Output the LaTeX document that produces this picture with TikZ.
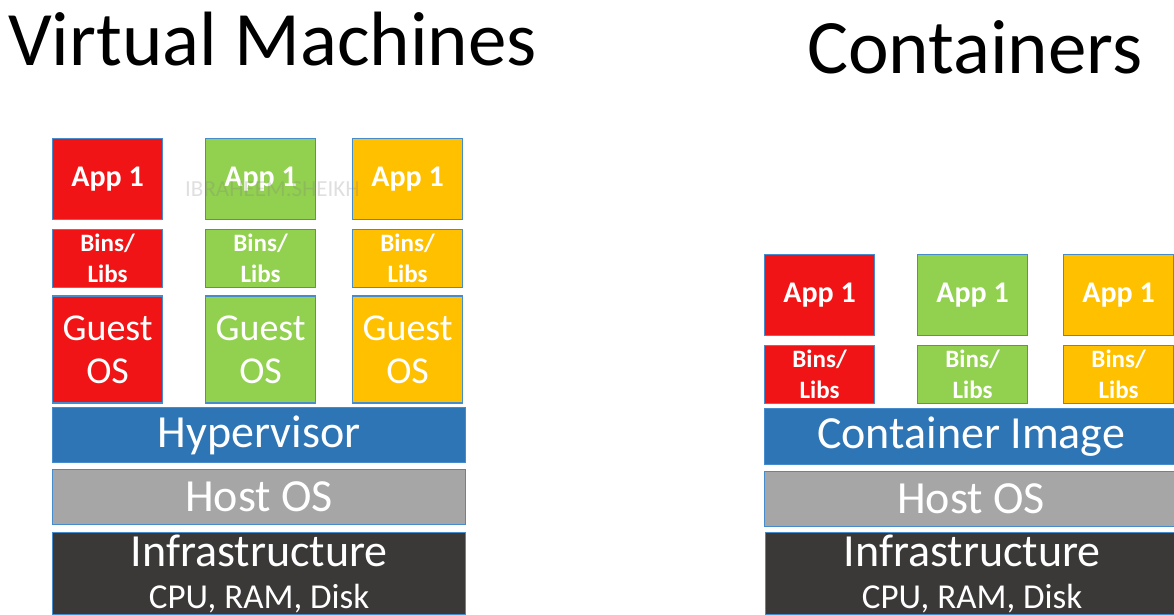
\documentclass[tikz,border=0pt]{standalone}
\usepackage{fontspec}
\setmainfont{Carlito}
\usepackage{tikz}
\usetikzlibrary{positioning}

\definecolor{vmred}{RGB}{240,20,22}
\definecolor{vmgreen}{RGB}{146,208,80}
\definecolor{vmyellow}{RGB}{255,192,0}
\definecolor{vmblue}{RGB}{46,117,182}
\definecolor{vmgray}{RGB}{166,166,166}
\definecolor{vmdark}{RGB}{59,56,56}
\definecolor{boxline}{RGB}{70,140,205}

\begin{document}
\begin{tikzpicture}[x=1pt, y=-1pt,
    box/.style={draw=boxline, line width=1.2pt, inner sep=0pt, text=white, align=center},
    app/.style={box, minimum width=110pt, minimum height=81pt, font=\bfseries\fontsize{30}{30}\selectfont},
    bins/.style={box, minimum width=110pt, minimum height=58pt, font=\bfseries\fontsize{25}{31}\selectfont},
    guest/.style={box, minimum width=110pt, minimum height=107pt, font=\fontsize{38}{43}\selectfont},
    layer/.style={box, minimum width=413pt, minimum height=55pt, font=\fontsize{46}{46}\selectfont},
    infra/.style={layer, fill=vmdark, minimum height=82pt, anchor=north west},
    title/.style={anchor=base west, inner sep=0pt, font=\fontsize{77}{77}\selectfont}]

    \useasboundingbox (0,0) rectangle (1174,615);
    \clip (0,0) rectangle (1174,615);

    % virtual machines
    \node[title] (vmtitle) at (8,66) {Virtual Machines};

    \node[app, fill=vmred, anchor=north west] (appR) at (52,138) {App 1};
    \node[app, fill=vmgreen, anchor=north west] (appG) at (205,138) {App 1};
    \node[app, fill=vmyellow, anchor=north west] (appY) at (352,138) {App 1};

    \node[bins, fill=vmred] (binsR) [below=9pt of appR] {Bins/\\Libs};
    \node[bins, fill=vmgreen] (binsG) [below=9pt of appG] {Bins/\\Libs};
    \node[bins, fill=vmyellow] (binsY) [below=9pt of appY] {Bins/\\Libs};

    \node[guest, fill=vmred] (guestR) [below=7pt of binsR] {Guest\\OS};
    \node[guest, fill=vmgreen] (guestG) [below=7pt of binsG] {Guest\\OS};
    \node[guest, fill=vmyellow] (guestY) [below=7pt of binsY] {Guest\\OS};

    \node[layer, fill=vmblue, anchor=north west] (hyper) at (52,407) {Hypervisor};
    \node[layer, fill=vmgray, anchor=north west] (hostL) at (52,469) {Host OS};
    \node[infra] (infraL) at (52,532)
        {Infrastructure\\[-4pt]{\fontsize{35}{35}\selectfont CPU, RAM, Disk}};

    \node[anchor=base west, inner sep=0pt, text=gray, opacity=0.25, font=\fontsize{23}{23}\selectfont]
        (mark) at (185,196) {IBRAHEEM.SHEIKH};

    % containers
    \node[title] (cttitle) at (807,74) {Containers};

    \node[app, fill=vmred, anchor=north west] (cappR) at (764,254) {App 1};
    \node[app, fill=vmgreen, anchor=north west] (cappG) at (917,254) {App 1};
    \node[app, fill=vmyellow, anchor=north west] (cappY) at (1063,254) {App 1};

    \node[bins, fill=vmred] (cbinsR) [below=9pt of cappR] {Bins/\\Libs};
    \node[bins, fill=vmgreen] (cbinsG) [below=9pt of cappG] {Bins/\\Libs};
    \node[bins, fill=vmyellow] (cbinsY) [below=9pt of cappY] {Bins/\\Libs};

    \node[layer, fill=vmblue, anchor=north west, minimum height=56pt] (image) at (764,408) {Container Image};
    \node[layer, fill=vmgray, anchor=north west] (hostR) at (764,471) {Host OS};
    \node[infra] (infraR) at (765,532)
        {Infrastructure\\[-4pt]{\fontsize{35}{35}\selectfont CPU, RAM, Disk}};

\end{tikzpicture}
\end{document}
